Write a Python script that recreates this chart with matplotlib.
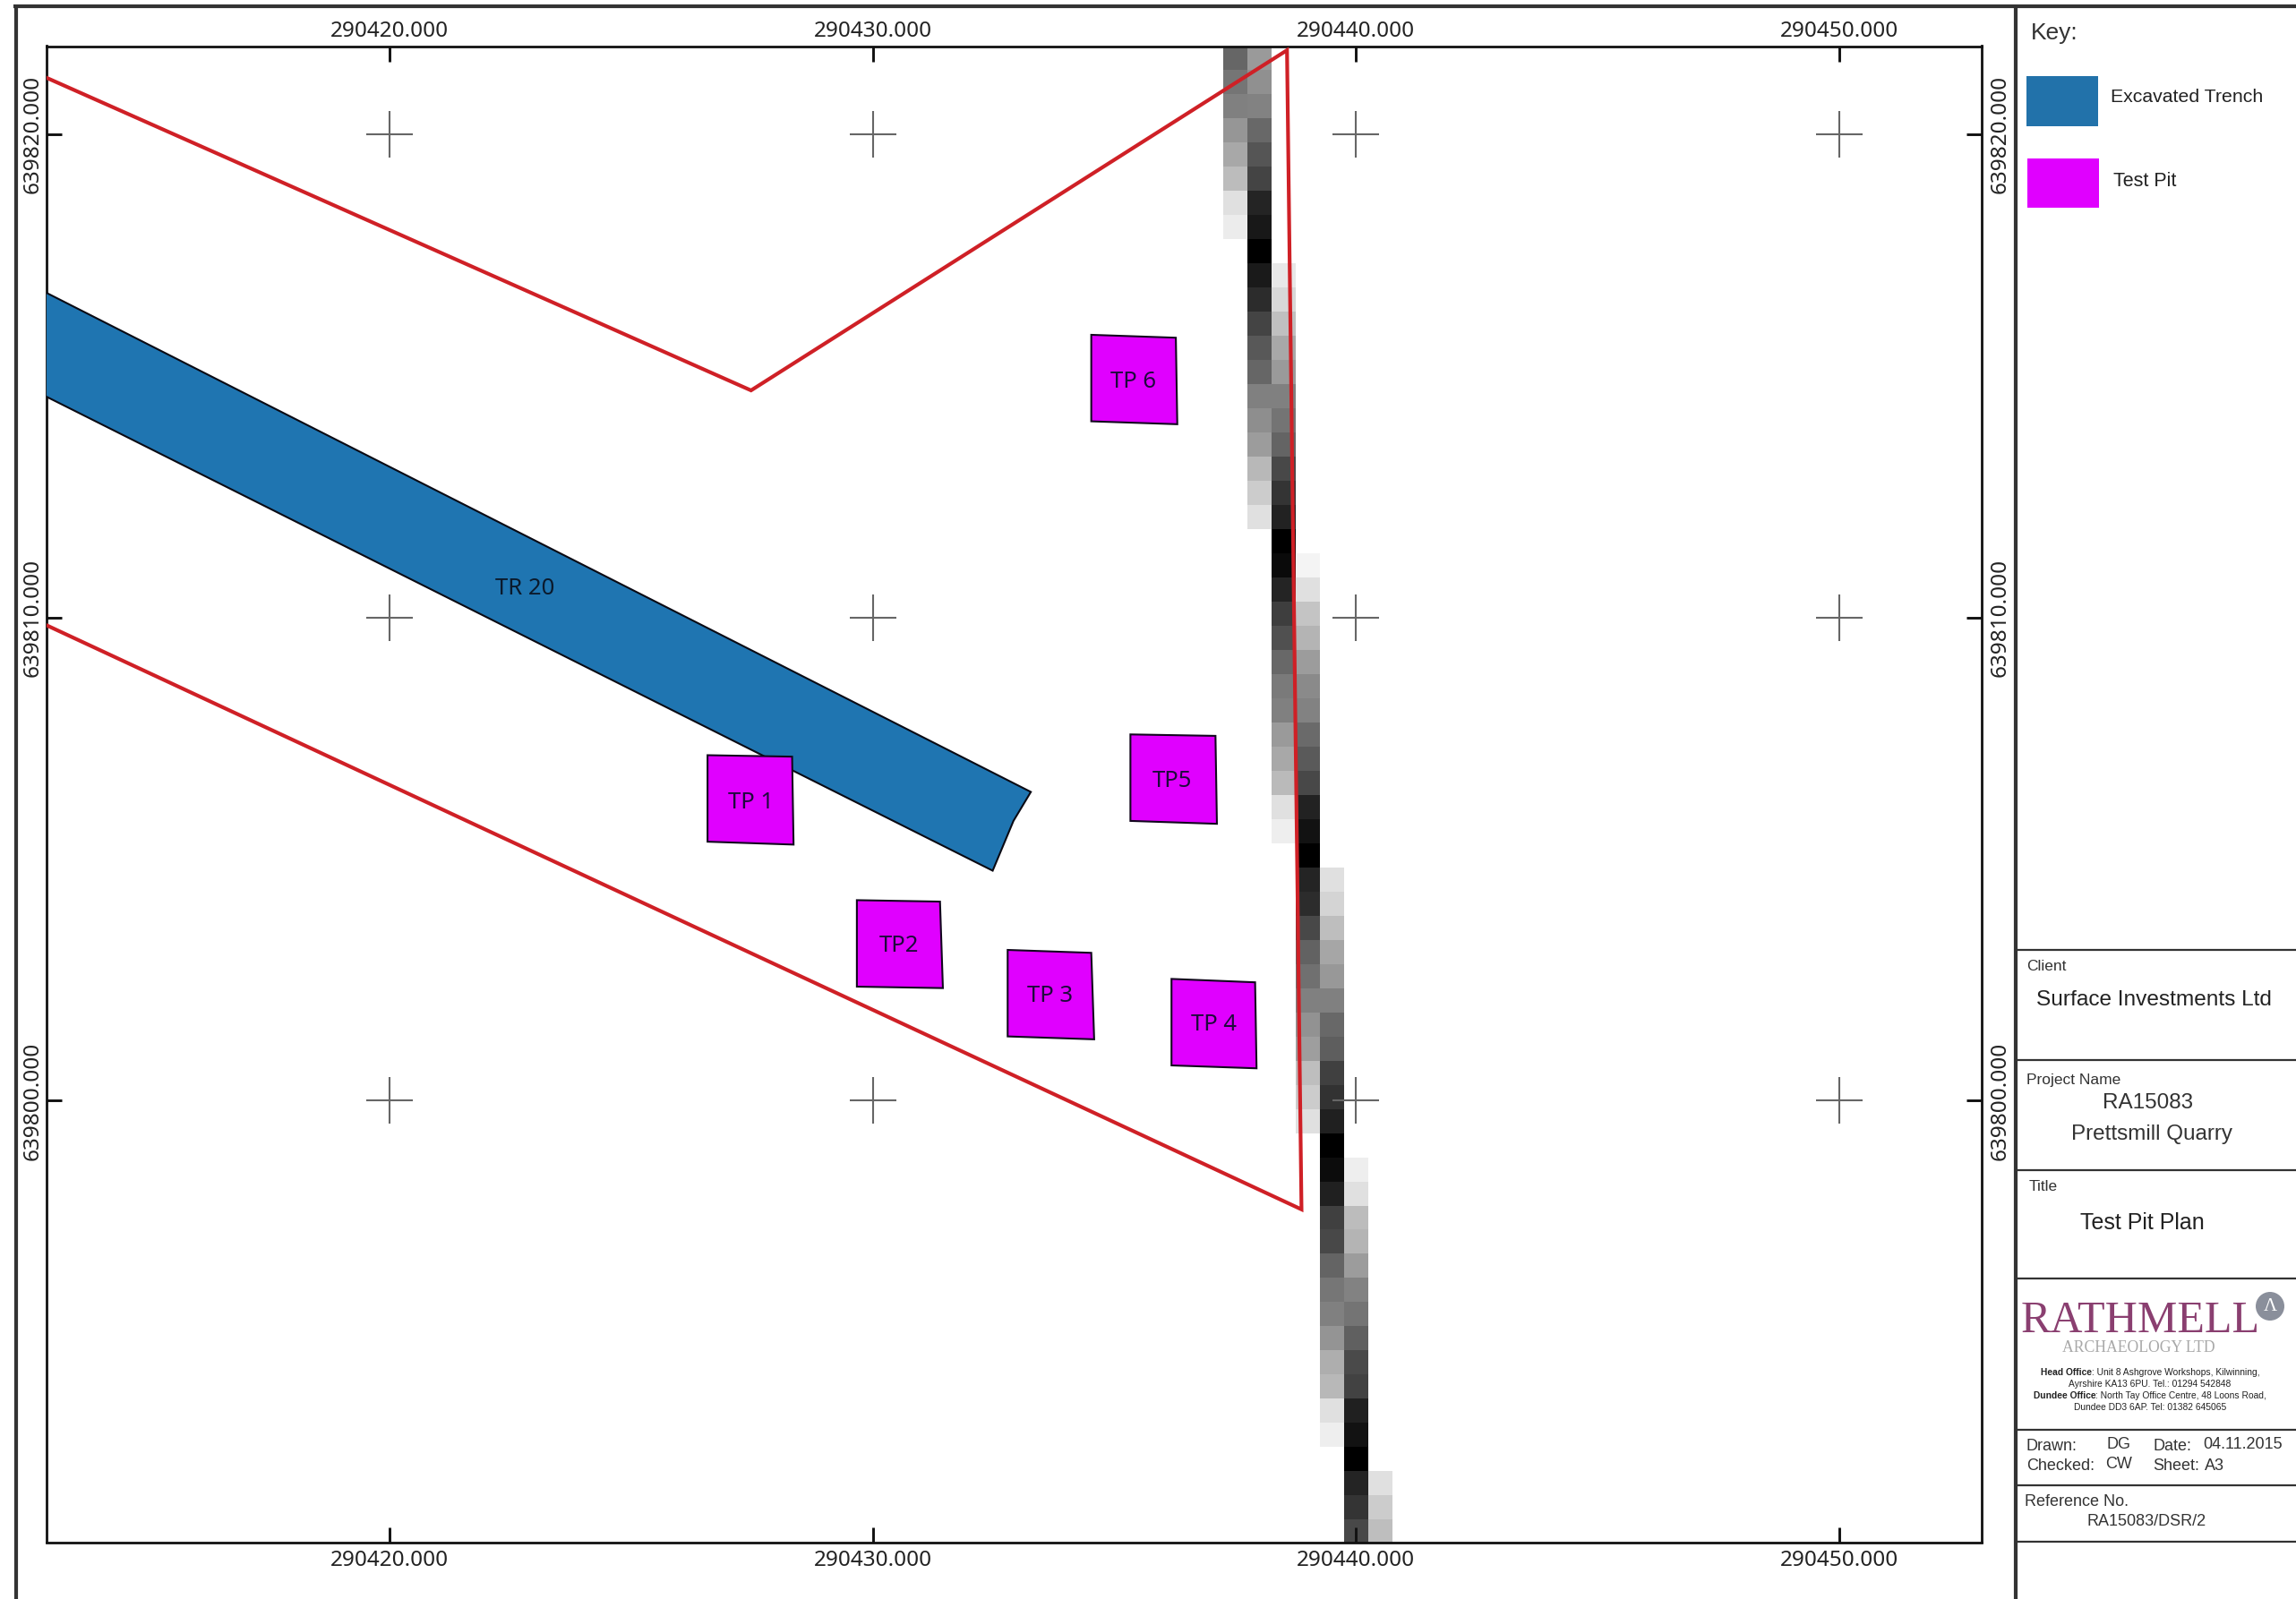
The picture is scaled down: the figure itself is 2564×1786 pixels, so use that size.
import numpy as np
import matplotlib
matplotlib.use("Agg")
import matplotlib.pyplot as plt
from matplotlib.lines import Line2D
from matplotlib.patches import Polygon, Rectangle, Circle

W, H = 2564, 1786

# ---- data (site grid metres) ----
x_ticks = [290420, 290430, 290440, 290450]
y_ticks = [639800, 639810, 639820]
x_tick_labels = ["290420.000", "290430.000", "290440.000", "290450.000"]
y_tick_labels = ["639800.000", "639810.000", "639820.000"]

boundary_x = [290412.88, 290427.48, 290438.57, 290438.87, 290412.88]
boundary_y = [639821.18, 639814.70, 639821.74, 639797.75, 639809.85]

trench_x = [290412.88, 290433.27, 290432.91, 290432.48, 290412.88]
trench_y = [639816.73, 639806.39, 639805.79, 639804.76, 639814.58]
trench_label = "TR 20"
trench_label_xy = (290422.80, 639810.60)

pit_names = ["TP 1", "TP2", "TP 3", "TP 4", "TP5", "TP 6"]
pit_x = [[290426.58, 290428.33, 290428.36, 290426.58],
         [290429.67, 290431.39, 290431.45, 290429.67],
         [290432.79, 290434.52, 290434.58, 290432.79],
         [290436.18, 290437.91, 290437.94, 290436.18],
         [290435.33, 290437.09, 290437.12, 290435.33],
         [290434.52, 290436.27, 290436.30, 290434.52]]
pit_y = [[639807.15, 639807.12, 639805.30, 639805.36],
         [639804.15, 639804.12, 639802.33, 639802.36],
         [639803.12, 639803.06, 639801.27, 639801.33],
         [639802.52, 639802.45, 639800.67, 639800.73],
         [639807.58, 639807.55, 639805.73, 639805.79],
         [639815.85, 639815.79, 639814.00, 639814.06]]
pit_label_x = [290427.47, 290430.55, 290433.67, 290437.06, 290436.20, 290435.39]
pit_label_y = [639806.16, 639803.21, 639802.16, 639801.58, 639806.61, 639814.88]

# raster: first row index and grey levels of each column, from the top edge down
raster_west = 290437.25
raster_north = 639821.83
raster_cell = 0.5
raster_rows = 62
col_start = [0, 0, 9, 21, 34, 46, 59]
col_grey = [
    [0x66, 0x75, 0x80, 0x96, 0xA8, 0xBC, 0xE0, 0xEC],
    [0x9A, 0x90, 0x82, 0x68, 0x55, 0x44, 0x24, 0x18, 0x00, 0x1A, 0x2C, 0x44, 0x58, 0x66,
     0x80, 0x8E, 0x9C, 0xB8, 0xCC, 0xE0],
    [0xE8, 0xD8, 0xC0, 0xA8, 0x9A, 0x80, 0x74, 0x64, 0x48, 0x34, 0x22, 0x00, 0x0A, 0x24,
     0x3E, 0x50, 0x68, 0x7A, 0x80, 0x9A, 0xA8, 0xBA, 0xE0, 0xEE],
    [0xF4, 0xE0, 0xC4, 0xB4, 0x9C, 0x8A, 0x82, 0x6A, 0x5A, 0x48, 0x22, 0x12, 0x00, 0x24,
     0x2C, 0x48, 0x62, 0x70, 0x80, 0x92, 0x9E, 0xBE, 0xCC, 0xE0],
    [0xE0, 0xD4, 0xBE, 0xA6, 0x98, 0x80, 0x68, 0x5E, 0x40, 0x32, 0x20, 0x00, 0x0C, 0x20,
     0x40, 0x48, 0x64, 0x76, 0x80, 0x94, 0xAE, 0xB8, 0xE0, 0xEE],
    [0xEE, 0xE0, 0xBC, 0xB4, 0x9C, 0x82, 0x74, 0x60, 0x4A, 0x42, 0x20, 0x12, 0x00, 0x24,
     0x34, 0x48],
    [0xE0, 0xCC, 0xBE],
]

key_title = "Key:"
key_labels = ["Excavated Trench", "Test Pit"]

TRENCH = "#1f75b1"
PIT = "#e000ff"
RED = "#cf2026"
INK = "#222222"
SANS = "Liberation Sans"
TICKF = "Noto Sans"

fig = plt.figure(figsize=(W / 100, H / 100), dpi=100, facecolor="white")


def fx(p):
    return p / W


def fy(p):
    return 1 - p / H


# ---- map axes ----
L, R, T, B = 51.5, 2213, 51.5, 1722.5
ax = fig.add_axes([fx(L), fy(B), fx(R - L), (B - T) / H])
ppm = 53.97
ax.set_xlim(290420 - (435 - L) / ppm, 290420 + (R - 435) / ppm)
ax.set_ylim(639820 - (B - 150) / ppm, 639820 + (150 - T) / ppm)

grid = np.full((raster_rows, len(col_grey)), np.nan)
for c, (s, g) in enumerate(zip(col_start, col_grey)):
    grid[s:s + len(g), c] = g
xe = raster_west + raster_cell * np.arange(len(col_grey) + 1)
ye = raster_north - raster_cell * np.arange(raster_rows + 1)
ax.pcolormesh(xe, ye, np.ma.masked_invalid(grid), cmap="gray", vmin=0, vmax=255,
              zorder=1, linewidth=0, antialiased=False)

ax.add_patch(Polygon(np.column_stack([trench_x, trench_y]), closed=True, facecolor=TRENCH,
                     edgecolor="#0a0a14", linewidth=1.5, zorder=3))
ax.plot(boundary_x, boundary_y, color=RED, lw=3.0, solid_joinstyle="miter", zorder=5)
for px_, py_ in zip(pit_x, pit_y):
    ax.add_patch(Polygon(np.column_stack([px_, py_]), closed=True, facecolor=PIT,
                         edgecolor="#12061e", linewidth=1.5, zorder=4))
for n, a, b in zip(pit_names, pit_label_x, pit_label_y):
    ax.text(a, b, n, ha="center", va="center", family=TICKF, fontsize=18.5, color="#1d0a3c", zorder=6)
ax.text(*trench_label_xy, trench_label, ha="center", va="center", family=TICKF, fontsize=18.5,
        color="#0b1a2c", zorder=6)

gx, gy = np.meshgrid(x_ticks, y_ticks)
ax.plot(gx.ravel(), gy.ravel(), ls="none", marker="+", ms=37.5, mew=1.5, color="#666666", zorder=2.5)

ax.set_xticks(x_ticks, x_tick_labels)
ax.set_yticks(y_ticks, y_tick_labels, rotation=90, va="center")
tick_kw = dict(which="major", direction="in", length=12, width=2.1, color="#111111",
               labelsize=17.5, labelcolor=INK)
ax.tick_params(axis="x", top=True, bottom=True, pad=6, **tick_kw)
ax.tick_params(axis="y", left=True, right=True, pad=2, **tick_kw)
sec_x = ax.secondary_xaxis("top")
sec_x.set_xticks(x_ticks, x_tick_labels)
sec_x.tick_params(axis="x", which="major", length=0, labelsize=17.5, labelcolor=INK, pad=3)
sec_y = ax.secondary_yaxis("right")
sec_y.set_yticks(y_ticks, y_tick_labels, rotation=90, va="center")
sec_y.tick_params(axis="y", which="major", length=0, labelsize=17.5, labelcolor=INK, pad=6)
for t in (ax.get_xticklabels() + ax.get_yticklabels() + sec_x.get_xticklabels() + sec_y.get_yticklabels()):
    t.set_family(TICKF)
for s in ax.spines.values():
    s.set_linewidth(2.0)
    s.set_color("#111111")
for s in list(sec_x.spines.values()) + list(sec_y.spines.values()):
    s.set_visible(False)


# ---- frame and title block ----
def hline(x0, x1, y, lw=1.5, c="#333333"):
    fig.add_artist(Line2D([fx(x0), fx(x1)], [fy(y), fy(y)], color=c, lw=lw, solid_capstyle="butt"))


def vline(x, y0, y1, lw=3.0, c="#333333"):
    fig.add_artist(Line2D([fx(x), fx(x)], [fy(y0), fy(y1)], color=c, lw=lw, solid_capstyle="butt"))


hline(15, W, 6.5, lw=3.0)
vline(17.5, 5, H)
vline(2251, 5, H)
for yy in [1061, 1184, 1307, 1428, 1597, 1659, 1722]:
    hline(2251, W, yy, lw=1.6)


def label(x, y, s, size, ha="left", color=INK, family=SANS, **kw):
    return fig.text(fx(x), fy(y), s, fontsize=size, ha=ha, va="center", color=color, family=family, **kw)


label(2268, 37, key_title, 19, color="#333333")
fig.add_artist(Rectangle((fx(2263), fy(141)), 80 / W, 56 / H, transform=fig.transFigure, facecolor="#2272aa",
                         edgecolor="none"))
fig.add_artist(Rectangle((fx(2264), fy(232)), 80 / W, 55 / H, transform=fig.transFigure, facecolor=PIT,
                         edgecolor="none"))
label(2357, 108.5, key_labels[0], 15.3)
label(2360, 203, key_labels[1], 15.5)

label(2263, 1080, "Client", 12.5, color="#333333")
label(2405, 1117, "Surface Investments Ltd", 17.6, ha="center")
label(2263, 1206, "Project Name", 12.5, color="#333333")
label(2399, 1232, "RA15083", 17.5, ha="center", color="#333333")
label(2403, 1267, "Prettsmill Quarry", 17.5, ha="center", color="#333333")
label(2266, 1325, "Title", 12.5, color="#333333")
label(2392, 1366, "Test Pit Plan", 18, ha="center")

label(2257, 1476, "RATHMELL", 36, family="Liberation Serif", color="#8a3f70")
label(2388, 1505, "ARCHAEOLOGY LTD", 12.7, ha="center", family="Liberation Serif", color="#a8a8a8")
fig.add_artist(Circle((2535 / 100, (H - 1459) / 100), 16 / 100, transform=fig.dpi_scale_trans,
                      facecolor="#8a8f9b", edgecolor="none"))
label(2535, 1459, "\u039b", 15, ha="center", family="Liberation Serif", color="white")

renderer = fig.canvas.get_renderer()


def rich(cx, y, parts, size=7.4):
    arts = [fig.text(0, fy(y), s, fontsize=size, family=SANS, va="center", color=INK,
                     weight="bold" if b else "normal") for s, b in parts]
    ws = [a.get_window_extent(renderer).width for a in arts]
    x = cx - sum(ws) / 2
    for a, w in zip(arts, ws):
        a.set_x(fx(x))
        x += w


rich(2401, 1533, [("Head Office", True), (": Unit 8 Ashgrove Workshops, Kilwinning,", False)])
rich(2401, 1546, [("Ayrshire KA13 6PU. Tel.: 01294 542848", False)])
rich(2401, 1559, [("Dundee Office", True), (": North Tay Office Centre, 48 Loons Road,", False)])
rich(2401, 1572, [("Dundee DD3 6AP. Tel: 01382 645065", False)])

label(2262, 1615, "Drawn:", 13, color="#333333")
label(2352, 1614, "DG", 13, color="#333333")
label(2405, 1615, "Date:", 13, color="#333333")
label(2460, 1613, "04.11.2015", 13, color="#333333")
label(2263, 1638, "Checked:", 13, color="#333333")
label(2351, 1636, "CW", 13, color="#333333")
label(2404, 1638, "Sheet:", 13, color="#333333")
label(2462, 1637, "A3", 13, color="#333333")
label(2261, 1677, "Reference No.", 13, color="#333333")
label(2397, 1700, "RA15083/DSR/2", 13, ha="center", color="#333333")

fig.savefig("out.png", dpi=100, facecolor="white")
